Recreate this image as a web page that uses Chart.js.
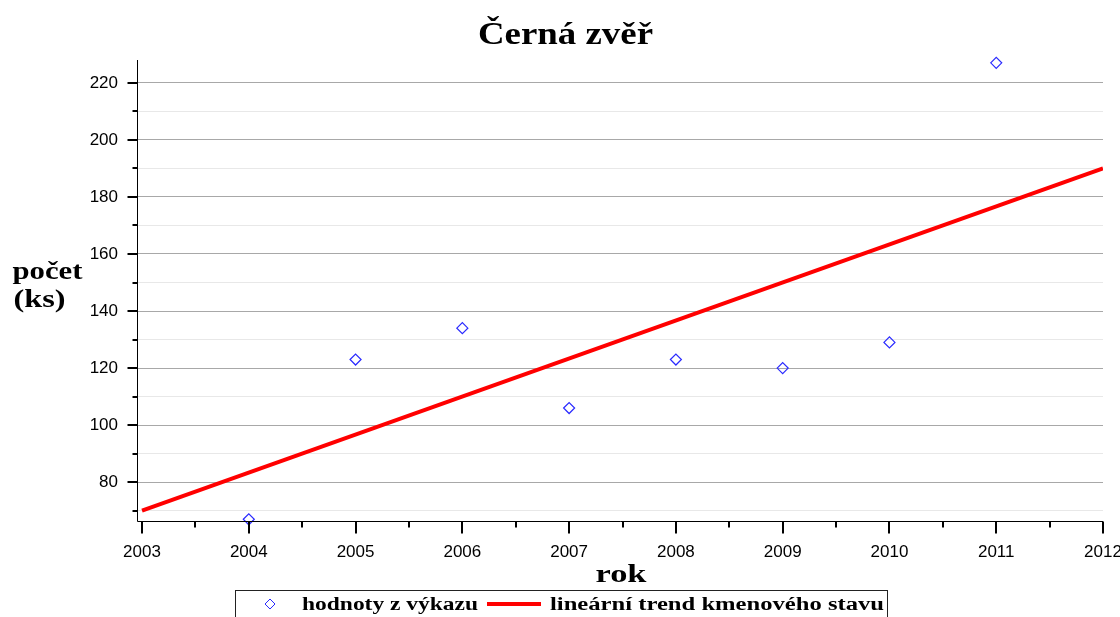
<!DOCTYPE html>
<html>
<head>
<meta charset="utf-8">
<script src="https://cdn.jsdelivr.net/npm/chart.js@4/dist/chart.umd.min.js"></script>
<style>
  html,body{margin:0;padding:0;background:#fff;}
  #wrap{width:1120px;height:617px;position:relative;}
</style>
</head>
<body>
<div id="wrap"><canvas id="c" width="1120" height="617"></canvas></div>
<script>
// ---- data ----
const chartTitle = 'Černá zvěř';
const xTitle = 'rok';
const yTitleLines = ['počet', '(ks)'];
const seriesNames = ['hodnoty z výkazu', 'lineární trend kmenového stavu'];
const reportYears = [2004, 2005, 2006, 2007, 2008, 2009, 2010, 2011];
const reportValues = [67, 123, 134, 106, 123, 120, 129, 227];
const trendYears = [2003, 2012];
const trendValues = [70, 190];
const xTickYears = [2003, 2004, 2005, 2006, 2007, 2008, 2009, 2010, 2011, 2012];
const xMinorTicks = [2003.5, 2004.5, 2005.5, 2006.5, 2007.5, 2008.5, 2009.5, 2010.5, 2011.5];
const yTickValues = [70, 80, 90, 100, 110, 120, 130, 140, 150, 160, 170, 180, 190, 200, 210, 220];
const yLabelledTicks = [80, 100, 120, 140, 160, 180, 200, 220];

const BLUE = '#2a2aff';
const RED = '#ff0000';

function stretchText(ctx, text, x, y, font, width, align) {
  ctx.save();
  ctx.font = font;
  ctx.textBaseline = 'alphabetic';
  ctx.textAlign = 'left';
  const w = ctx.measureText(text).width;
  const s = width / w;
  let left = x;
  if (align === 'center') left = x - width / 2;
  ctx.translate(left, y);
  ctx.scale(s, 1);
  ctx.fillText(text, 0, 0);
  ctx.restore();
}

const decor = {
  id: 'decor',
  afterDraw(chart) {
    const ctx = chart.ctx;
    const a = chart.chartArea;
    const xs = chart.scales.x, ys = chart.scales.y;
    ctx.save();
    ctx.strokeStyle = '#000';
    ctx.lineWidth = 1;
    // axes lines
    const ax = Math.round(a.left) + 0.5;
    const ay = Math.round(a.bottom) + 0.5;
    ctx.beginPath();
    ctx.moveTo(ax, Math.round(a.top));
    ctx.lineTo(ax, ay);
    ctx.lineTo(Math.round(a.right), ay);
    ctx.stroke();
    // y ticks
    ctx.lineWidth = 2;
    yTickValues.forEach(v => {
      const py = Math.round(ys.getPixelForValue(v));
      const major = yLabelledTicks.includes(v);
      ctx.beginPath();
      ctx.moveTo(ax - (major ? 10 : 5), py);
      ctx.lineTo(ax, py);
      ctx.stroke();
    });
    // x ticks
    xTickYears.forEach(v => {
      const px = Math.round(xs.getPixelForValue(v));
      ctx.beginPath();
      ctx.moveTo(px, ay);
      ctx.lineTo(px, ay + 12);
      ctx.stroke();
    });
    xMinorTicks.forEach(v => {
      const px = Math.round(xs.getPixelForValue(v));
      ctx.beginPath();
      ctx.moveTo(px, ay);
      ctx.lineTo(px, ay + 6);
      ctx.stroke();
    });
    ctx.fillStyle = '#000';
    // title
    stretchText(ctx, chartTitle, 565.5, 44, 'bold 31px "Liberation Serif"', 175, 'center');
    // axis titles
    stretchText(ctx, xTitle, 621, 582, 'bold 25px "Liberation Serif"', 51, 'center');
    stretchText(ctx, yTitleLines[0], 47.5, 279, 'bold 26px "Liberation Serif"', 70, 'center');
    stretchText(ctx, yTitleLines[1], 39.5, 307, 'bold 26px "Liberation Serif"', 52, 'center');
    // legend
    ctx.strokeStyle = '#222';
    ctx.lineWidth = 1;
    ctx.strokeRect(235.5, 590.5, 652, 40);
    // diamond marker
    ctx.strokeStyle = BLUE;
    ctx.lineWidth = 1;
    ctx.beginPath();
    ctx.moveTo(270, 599); ctx.lineTo(275, 604); ctx.lineTo(270, 609); ctx.lineTo(265, 604); ctx.closePath();
    ctx.stroke();
    ctx.fillStyle = '#000';
    stretchText(ctx, seriesNames[0], 302, 610, 'bold 18px "Liberation Serif"', 176, 'left');
    ctx.strokeStyle = RED;
    ctx.lineWidth = 4;
    ctx.beginPath();
    ctx.moveTo(487, 604); ctx.lineTo(541, 604);
    ctx.stroke();
    stretchText(ctx, seriesNames[1], 550, 610, 'bold 18px "Liberation Serif"', 334, 'left');
    ctx.restore();
  }
};

new Chart(document.getElementById('c'), {
  type: 'scatter',
  data: {
    datasets: [
      {
        label: seriesNames[1],
        data: trendYears.map((x, i) => ({x, y: trendValues[i]})),
        showLine: true,
        borderColor: RED,
        borderWidth: 4,
        pointRadius: 0,
        order: 2
      },
      {
        label: seriesNames[0],
        data: reportYears.map((x, i) => ({x, y: reportValues[i]})),
        showLine: false,
        clip: false,
        pointStyle: 'rectRot',
        pointRadius: 5.5,
        borderColor: BLUE,
        backgroundColor: 'rgba(0,0,0,0)',
        borderWidth: 1.2,
        order: 1
      }
    ]
  },
  options: {
    responsive: false,
    animation: false,
    devicePixelRatio: 1,
    layout: { padding: { top: 60, left: 0, right: 17, bottom: 55 } },
    plugins: { legend: { display: false }, title: { display: false }, tooltip: { enabled: false } },
    scales: {
      x: {
        type: 'linear',
        min: 2002.953,
        max: 2012,
        afterBuildTicks: s => { s.ticks = xTickYears.map(v => ({value: v})); },
        afterFit: s => { s.height = 41; s.paddingLeft = 0; s.paddingRight = 0; },
        grid: { display: false, drawTicks: false },
        border: { display: false },
        ticks: {
          padding: 21,
          color: '#000',
          font: { family: '"Liberation Sans"', size: 17 },
          maxRotation: 0,
          autoSkip: false,
          callback: v => String(v)
        }
      },
      y: {
        type: 'linear',
        min: 66.4,
        max: 228,
        afterBuildTicks: s => { s.ticks = yTickValues.map(v => ({value: v})); },
        afterFit: s => { s.width = 137; s.paddingTop = 0; s.paddingBottom = 0; },
        grid: {
          drawTicks: false,
          color: c => (c.tick && yLabelledTicks.includes(c.tick.value)) ? '#a8a8a8' : '#e8e8e8',
          lineWidth: 1
        },
        border: { display: false },
        ticks: {
          padding: 19,
          color: '#000',
          font: { family: '"Liberation Sans"', size: 17 },
          autoSkip: false,
          callback: v => yLabelledTicks.includes(v) ? String(v) : ''
        }
      }
    }
  },
  plugins: [decor]
});
</script>
</body>
</html>
